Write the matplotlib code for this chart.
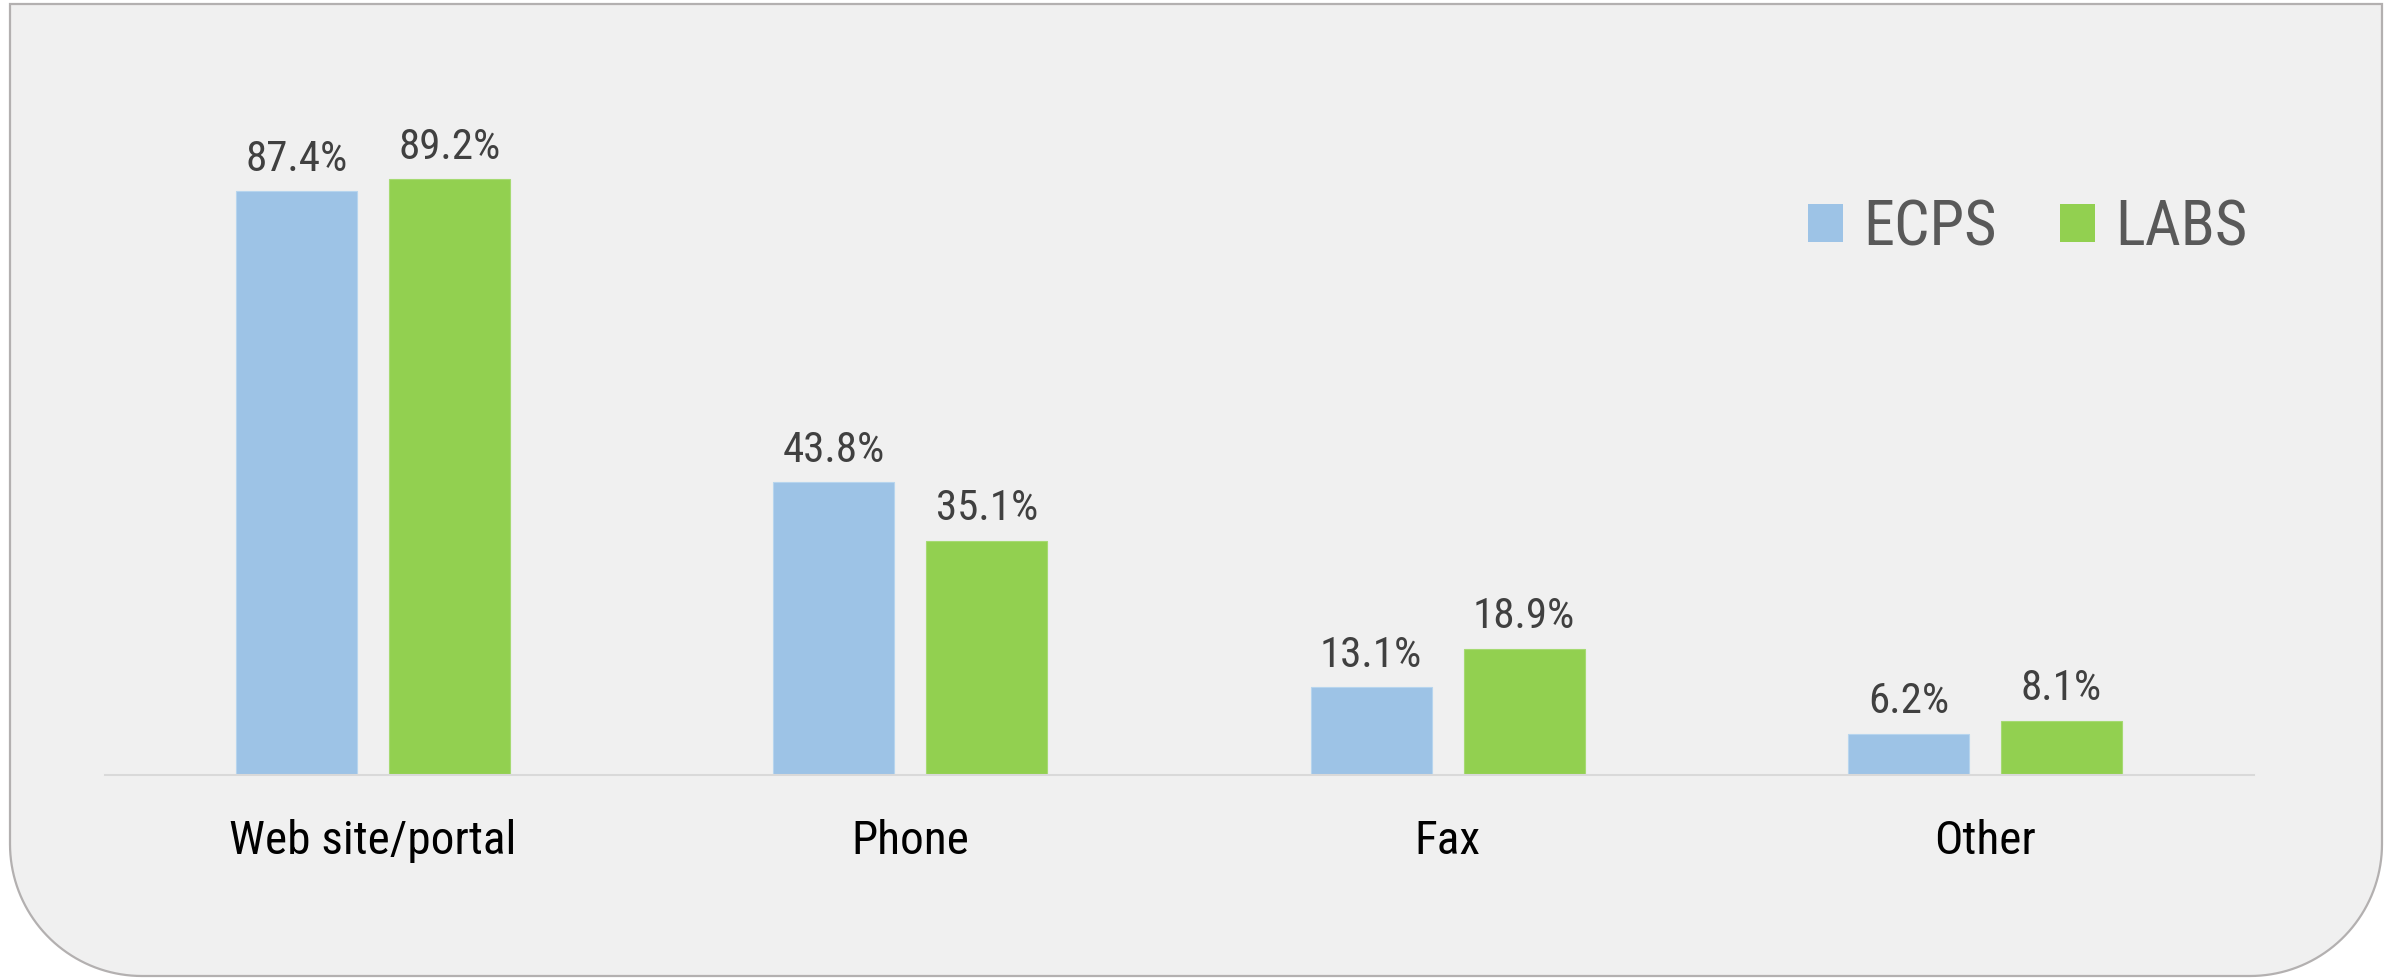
import numpy as np
import matplotlib
matplotlib.use("Agg")
import matplotlib.pyplot as plt
from matplotlib.path import Path
from matplotlib.patches import PathPatch, Patch
from matplotlib import font_manager

# Response channels, share of respondents (%)
categories = ["Web site/portal", "Phone", "Fax", "Other"]
series_names = ["ECPS", "LABS"]
ecps = [87.4, 43.8, 13.1, 6.2]
labs = [89.2, 35.1, 18.9, 8.1]

colors = {"ECPS": "#9DC3E6", "LABS": "#92D050"}

# Prefer a narrow sans face when one is installed
installed = {f.name for f in font_manager.fontManager.ttflist}
narrow = [n for n in ("Liberation Sans Narrow", "Arial Narrow", "Roboto Condensed")
          if n in installed]
FONT = narrow + ["DejaVu Sans"]
plt.rcParams["font.family"] = FONT
if not narrow:
    plt.rcParams["font.stretch"] = "condensed"

W, H = 2395, 979
fig = plt.figure(figsize=(W / 100, H / 100), dpi=100)
fig.patch.set_facecolor("white")

# Panel: square top corners, rounded bottom corners
left, right, top, bottom, r = 10, 2382, 5, 977, 132
verts = [(left, top), (right, top), (right, bottom - r)]
for a in np.linspace(0, -np.pi / 2, 40):
    verts.append((right - r + r * np.cos(a), bottom - r - r * np.sin(a)))
verts.append((left + r, bottom))
for a in np.linspace(-np.pi / 2, -np.pi, 40):
    verts.append((left + r + r * np.cos(a), bottom - r - r * np.sin(a)))
verts.append((left, top))
verts = [(x / W, 1 - y / H) for x, y in verts]
panel = PathPatch(Path(verts, closed=True), transform=fig.transFigure,
                  facecolor="#F0F0F0", edgecolor="#B3B0B0", linewidth=1.6,
                  zorder=-5)
fig.patches.append(panel)

ax = fig.add_axes([104.5 / W, (H - 776) / H, (2253.5 - 104.5) / W, 668 / H])
ax.set_facecolor("none")
ax.set_zorder(2)

x = np.arange(len(categories))
bw = 0.225
off = 0.1425
bars_e = ax.bar(x - off, ecps, bw, color=colors["ECPS"], edgecolor="#B7D5EE",
                linewidth=0.8, zorder=2)
bars_l = ax.bar(x + off, labs, bw, color=colors["LABS"], edgecolor="#A6DA72",
                linewidth=0.8, zorder=2)

for bars, vals in ((bars_e, ecps), (bars_l, labs)):
    for b, v in zip(bars, vals):
        ax.annotate(f"{v:.1f}%", (b.get_x() + b.get_width() / 2, v),
                    xytext=(0, 15.5), textcoords="offset points",
                    ha="center", va="baseline", fontsize=31, color="#404040")

ax.set_xlim(-0.5, len(categories) - 0.5)
ax.set_ylim(0, 100)
ax.set_xticks(x)
ax.set_xticklabels(categories, fontsize=34, color="#000000")
ax.tick_params(axis="x", length=0, pad=31)
ax.set_yticks([])
for s in ("left", "right", "top"):
    ax.spines[s].set_visible(False)
ax.spines["bottom"].set_color("#D9D9D9")
ax.spines["bottom"].set_linewidth(1.5)

handles = [Patch(facecolor=colors[n], edgecolor="none") for n in series_names]
leg = fig.legend(handles, series_names, loc="center left",
                 bbox_to_anchor=(1808 / W, 1 - 229 / H), ncol=2,
                 frameon=False, fontsize=45, borderpad=0, borderaxespad=0,
                 handlelength=0.56, handleheight=0.56, handletextpad=0.33,
                 columnspacing=1.0)
for t in leg.get_texts():
    t.set_color("#595959")

fig.savefig("out.png", dpi=100, facecolor="white")
